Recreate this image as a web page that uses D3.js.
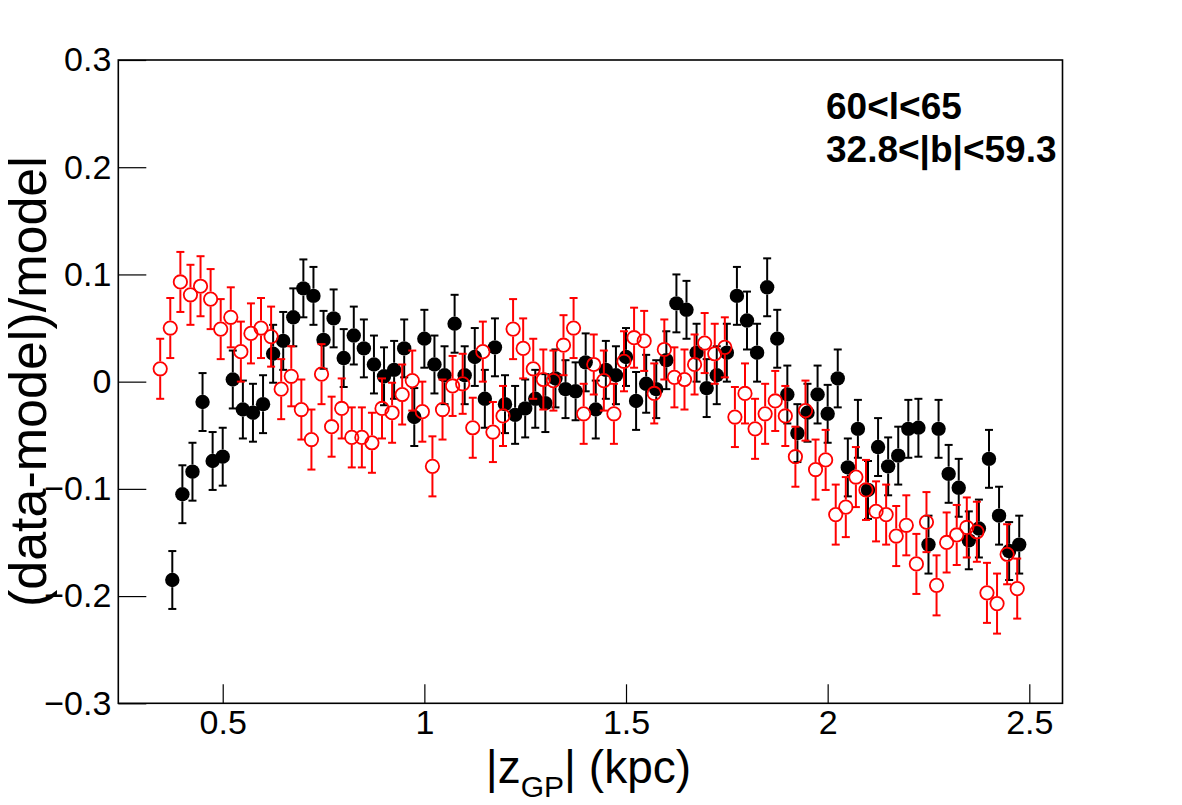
<!DOCTYPE html>
<html>
<head>
<meta charset="utf-8">
<script src="https://cdn.jsdelivr.net/npm/d3@7"></script>
<style>
  html, body { margin: 0; padding: 0; background: #ffffff; }
  svg { display: block; }
  text { font-family: "Liberation Sans", Arial, Helvetica, sans-serif; }
</style>
</head>
<body>
<div id="chart"></div>
<script>
// ---------------- data ----------------
const blackX = [0.375,0.400,0.425,0.450,0.475,0.500,0.525,0.550,0.575,0.600,
  0.625,0.650,0.675,0.700,0.725,0.750,0.775,0.800,0.825,0.850,
  0.875,0.900,0.925,0.950,0.975,1.000,1.025,1.050,1.075,1.100,
  1.125,1.150,1.175,1.200,1.225,1.250,1.275,1.300,1.325,1.350,
  1.375,1.400,1.425,1.450,1.475,1.500,1.525,1.550,1.575,1.600,
  1.625,1.650,1.675,1.700,1.725,1.750,1.775,1.800,1.825,1.850,
  1.875,1.900,1.925,1.950,1.975,2.000,2.025,2.050,2.075,2.100,
  2.125,2.150,2.175,2.200,2.225,2.250,2.275,2.300,2.325,2.350,
  2.375,2.400,2.425,2.450,2.475];
const blackY = [-0.185,-0.105,-0.084,-0.019,-0.074,-0.070,0.002,-0.026,-0.029,-0.021,
  0.026,0.038,0.060,0.087,0.080,0.039,0.059,0.022,0.043,0.031,
  0.016,0.005,0.011,0.031,-0.033,0.040,0.016,0.006,0.054,0.006,
  0.023,-0.016,0.032,-0.021,-0.031,-0.025,-0.016,-0.020,0.003,-0.007,
  -0.009,0.018,-0.026,0.011,0.006,0.023,-0.018,-0.002,-0.007,0.020,
  0.073,0.067,0.027,-0.006,0.006,0.027,0.080,0.057,0.027,0.088,
  0.040,-0.012,-0.048,-0.029,-0.012,-0.030,0.003,-0.080,-0.044,-0.101,
  -0.061,-0.079,-0.069,-0.044,-0.043,-0.152,-0.044,-0.086,-0.099,-0.148,
  -0.137,-0.072,-0.125,-0.158,-0.152];
const blackErr = 0.027;

const redX = [0.345,0.370,0.395,0.420,0.445,0.470,0.495,0.520,0.545,0.570,
  0.595,0.620,0.645,0.670,0.695,0.720,0.745,0.770,0.795,0.820,
  0.845,0.870,0.895,0.920,0.945,0.970,0.995,1.020,1.045,1.070,
  1.095,1.120,1.145,1.170,1.195,1.220,1.245,1.270,1.295,1.320,
  1.345,1.370,1.395,1.420,1.445,1.470,1.495,1.520,1.545,1.570,
  1.595,1.620,1.645,1.670,1.695,1.720,1.745,1.770,1.795,1.820,
  1.845,1.870,1.895,1.920,1.945,1.970,1.995,2.020,2.045,2.070,
  2.095,2.120,2.145,2.170,2.195,2.220,2.245,2.270,2.295,2.320,
  2.345,2.370,2.395,2.420,2.445,2.470];
const redY = [0.012,0.050,0.093,0.081,0.089,0.077,0.049,0.060,0.028,0.045,
  0.050,0.042,-0.007,0.005,-0.026,-0.054,0.007,-0.042,-0.025,-0.052,
  -0.052,-0.057,-0.025,-0.029,-0.012,0.001,-0.028,-0.079,-0.026,-0.004,
  -0.002,-0.043,0.028,-0.047,-0.032,0.049,0.031,0.012,0.002,0.001,
  0.034,0.050,-0.030,0.016,0.001,-0.030,0.019,0.041,0.038,-0.011,
  0.030,0.004,0.002,0.016,0.036,0.026,0.032,-0.033,-0.011,-0.044,
  -0.030,-0.018,-0.032,-0.070,-0.027,-0.082,-0.073,-0.124,-0.117,-0.089,
  -0.101,-0.121,-0.124,-0.144,-0.134,-0.170,-0.131,-0.190,-0.150,-0.143,
  -0.136,-0.140,-0.197,-0.207,-0.161,-0.193];
const redErr = 0.028;

const xMajorTicks = [0.5, 1, 1.5, 2, 2.5];
const xMinorTicks = [0.3, 0.4, 0.6, 0.7, 0.8, 0.9, 1.1, 1.2, 1.3, 1.4, 1.6, 1.7, 1.8, 1.9, 2.1, 2.2, 2.3, 2.4];
const yMajorTicks = [-0.3, -0.2, -0.1, 0, 0.1, 0.2, 0.3];
const yMinorTicks = [-0.28,-0.26,-0.24,-0.22,-0.18,-0.16,-0.14,-0.12,-0.08,-0.06,-0.04,-0.02,
                     0.02,0.04,0.06,0.08,0.12,0.14,0.16,0.18,0.22,0.24,0.26,0.28];
const xDomain = [0.2411, 2.5823];
const yDomain = [-0.3, 0.3];
const infoLines = ["60<l<65", "32.8<|b|<59.3"];

// ---------------- layout ----------------
const W = 1182, H = 805;
const L = 118.3, R = 1062.5, T = 60, B = 703.3;

const svg = d3.select("#chart").append("svg")
  .attr("width", W).attr("height", H);
svg.append("rect").attr("width", W).attr("height", H).attr("fill", "#ffffff");

const x = d3.scaleLinear().domain(xDomain).range([L, R]);
const y = d3.scaleLinear().domain(yDomain).range([B, T]);
const fmt = d3.format("~g");

// axes
const gx = svg.append("g").attr("transform", `translate(0,${B})`);
gx.call(d3.axisBottom(x).tickValues(xMinorTicks).tickFormat("").tickSize(-9.5).tickSizeOuter(0));
gx.call(d3.axisBottom(x).tickValues(xMajorTicks).tickFormat(fmt).tickSize(-19).tickSizeOuter(0).tickPadding(6));
gx.selectAll(".domain").remove();
gx.selectAll("line").attr("stroke", "#000").attr("stroke-width", 1.2);
gx.selectAll("text").attr("font-size", 34).attr("fill", "#000")
  .attr("font-family", "Liberation Sans, Arial, sans-serif").attr("dy", "0.72em");

const gy = svg.append("g").attr("transform", `translate(${L},0)`);
gy.call(d3.axisLeft(y).tickValues(yMinorTicks).tickFormat("").tickSize(-14).tickSizeOuter(0));
gy.call(d3.axisLeft(y).tickValues(yMajorTicks).tickFormat(fmt).tickSize(-28).tickSizeOuter(0).tickPadding(7));
gy.selectAll(".domain").remove();
gy.selectAll("line").attr("stroke", "#000").attr("stroke-width", 1.2);
gy.selectAll("text").attr("font-size", 34).attr("fill", "#000")
  .attr("font-family", "Liberation Sans, Arial, sans-serif");

// frame
svg.append("rect").attr("x", L).attr("y", T).attr("width", R - L).attr("height", B - T)
  .attr("fill", "none").attr("stroke", "#000").attr("stroke-width", 1.6);

// ---------------- series ----------------
function drawSeries(xs, ys, err, color, filled, r) {
  const data = xs.map((d, i) => ({x: d, y: ys[i]}));
  const g = svg.append("g");
  const cap = 4;
  data.forEach(d => {
    const cx = x(d.x), cy = y(d.y);
    const yTop = y(d.y + err), yBot = y(d.y - err);
    g.append("line").attr("x1", cx).attr("x2", cx).attr("y1", yTop).attr("y2", cy - r)
      .attr("stroke", color).attr("stroke-width", 2);
    g.append("line").attr("x1", cx).attr("x2", cx).attr("y1", cy + r).attr("y2", yBot)
      .attr("stroke", color).attr("stroke-width", 2);
    g.append("line").attr("x1", cx - cap).attr("x2", cx + cap).attr("y1", yTop).attr("y2", yTop)
      .attr("stroke", color).attr("stroke-width", 2);
    g.append("line").attr("x1", cx - cap).attr("x2", cx + cap).attr("y1", yBot).attr("y2", yBot)
      .attr("stroke", color).attr("stroke-width", 2);
  });
  g.selectAll("circle").data(data).join("circle")
    .attr("cx", d => x(d.x)).attr("cy", d => y(d.y))
    .attr("r", filled ? r : r - 0.8)
    .attr("fill", filled ? color : "none")
    .attr("stroke", color).attr("stroke-width", filled ? 0 : 1.8);
}
drawSeries(blackX, blackY, blackErr, "#000000", true, 7.2);
drawSeries(redX, redY, redErr, "#ff0000", false, 7.5);

// ---------------- titles ----------------
svg.append("text")
  .attr("transform", `translate(46,${(T + B) / 2}) rotate(-90)`)
  .attr("text-anchor", "middle").attr("font-size", 52).attr("fill", "#000")
  .text("(data-model)/model");

const xt = svg.append("text").attr("x", (L + R) / 2 - 2).attr("y", 783)
  .attr("text-anchor", "middle").attr("font-size", 46).attr("fill", "#000");
xt.append("tspan").text("|z");
xt.append("tspan").attr("font-size", 30).attr("dy", 14).text("GP");
xt.append("tspan").attr("dy", -14).text("| (kpc)");

svg.selectAll(".info").data(infoLines).join("text")
  .attr("class", "info")
  .attr("x", 826).attr("y", (d, i) => 119 + i * 43)
  .attr("font-size", 37).attr("font-weight", "bold").attr("fill", "#000")
  .text(d => d);
</script>
</body>
</html>
